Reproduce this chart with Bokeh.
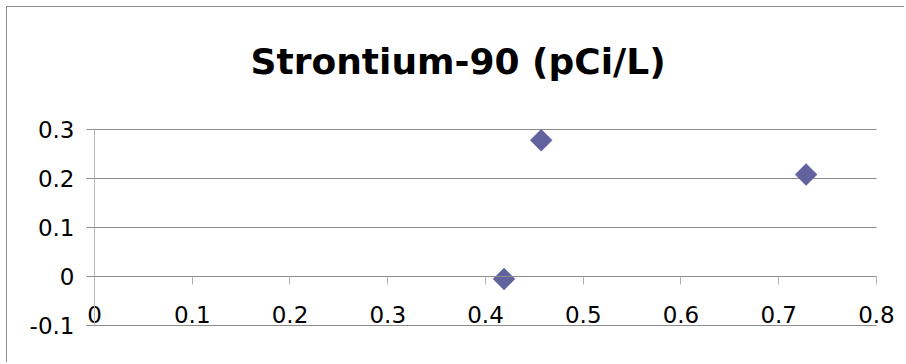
from bokeh.plotting import figure
from bokeh.models import FixedTicker, NumeralTickFormatter, Range1d, Label
from bokeh.embed import file_html
from bokeh.resources import INLINE
from math import pi

# data
x_vals = [0.419, 0.457, 0.728]
y_vals = [-0.005, 0.278, 0.208]
x_ticks = [0, 0.1, 0.2, 0.3, 0.4, 0.5, 0.6, 0.7, 0.8]
y_ticks = [-0.1, 0, 0.1, 0.2, 0.3]
title_text = "Strontium-90 (pCi/L)"

FONT = "DejaVu Sans"
GRID = "#8c8c8c"
LIGHT = "#b4b4b4"

# the frame fills the whole canvas; axes sit at fixed positions inside it
p = figure(width=898, height=356, output_backend="svg", toolbar_location=None,
           x_range=Range1d(-0.089, 0.8297), y_range=Range1d(-0.1776, 0.549),
           min_border_left=0, min_border_right=0, min_border_top=0, min_border_bottom=0)
p.styles = {"margin-left": "6px", "margin-top": "6px",
            "border-left": "1px solid #8c8c8c", "border-top": "1px solid #8c8c8c"}

p.outline_line_color = None
p.background_fill_color = "white"
p.border_fill_color = "white"

title = Label(x=0.372, y=0.438, text=title_text, text_align="center",
              text_baseline="alphabetic", text_font=FONT, text_font_style="bold",
              text_font_size="36px", text_color="black")
p.add_layout(title)

p.xgrid.visible = False
p.ygrid.ticker = FixedTicker(ticks=y_ticks)
p.ygrid.grid_line_color = GRID
p.ygrid.grid_line_width = 1
p.ygrid.cross_bounds = (x_ticks[0], x_ticks[-1])

fmt = "0.[0]"
xa = p.xaxis[0]
xa.ticker = FixedTicker(ticks=x_ticks)
xa.formatter = NumeralTickFormatter(format=fmt)
xa.fixed_location = 0
xa.bounds = (x_ticks[0], x_ticks[-1])
xa.axis_line_color = GRID
xa.major_tick_line_color = LIGHT
xa.major_tick_out = 8
xa.major_tick_in = 0
xa.minor_tick_line_color = None
xa.major_label_standoff = 22
xa.major_label_text_font = FONT
xa.major_label_text_font_size = "23px"
xa.major_label_text_color = "black"

ya = p.yaxis[0]
ya.ticker = FixedTicker(ticks=y_ticks)
ya.formatter = NumeralTickFormatter(format=fmt)
ya.fixed_location = 0
ya.bounds = (y_ticks[0], y_ticks[-1])
ya.axis_line_color = LIGHT
ya.major_tick_line_color = GRID
ya.major_tick_out = 8
ya.major_tick_in = 0
ya.minor_tick_line_color = None
ya.major_label_standoff = 12
ya.major_label_text_font = FONT
ya.major_label_text_font_size = "23px"
ya.major_label_text_color = "black"

p.scatter(x_vals, y_vals, marker="square", angle=pi / 4, size=15.5,
          fill_color="#62629e", line_color="#62629e", line_width=0.5)

open("out.html", "w").write(file_html(p, INLINE))
